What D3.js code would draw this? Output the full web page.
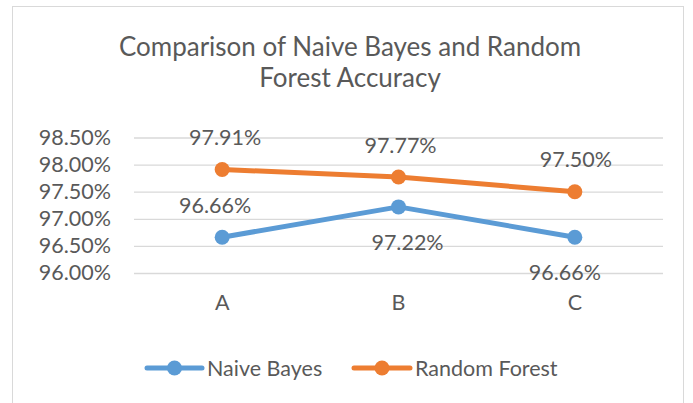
<!DOCTYPE html>
<html>
<head>
<meta charset="utf-8">
<script src="https://cdn.jsdelivr.net/npm/d3@7"></script>
<style>
  html, body { margin: 0; padding: 0; background: #fff; }
  svg { display: block; }
  text { font-family: Lato, "Open Sans", "Liberation Sans", sans-serif; fill: #595959; }
</style>
</head>
<body>
<svg id="chart" width="693" height="403"></svg>
<script>
// ---- data ----
const categories = ["A", "B", "C"];
const seriesNames = ["Naive Bayes", "Random Forest"];
const naiveBayes = [96.66, 97.22, 96.66];
const randomForest = [97.91, 97.77, 97.50];
const yTicks = [96.0, 96.5, 97.0, 97.5, 98.0, 98.5];
const titleLines = ["Comparison of Naive Bayes and Random", "Forest Accuracy"];

// ---- layout / style ----
const W = 693, H = 403;
const colors = ["#5B9BD5", "#ED7D31"];
const plot = { left: 134, right: 663, top: 137.5, bottom: 273 };
const fs = "21.5px";
// label placement per series (above/below) and small horizontal nudges
const labelSide = [["above", "below", "below"], ["above", "above", "above"]];
const labelDx = [[-7, 9, -10], [3, 2, 1]];
const labelDy = { above: -32, below: 35 };

const svg = d3.select("#chart");

// chart border
svg.append("rect")
  .attr("x", 12.5).attr("y", 6.5)
  .attr("width", 671).attr("height", 420)
  .attr("fill", "#fff").attr("stroke", "#D9D9D9").attr("stroke-width", 1);

// title
const title = svg.append("text")
  .attr("text-anchor", "middle")
  .style("font-size", "26px");
title.selectAll("tspan").data(titleLines).join("tspan")
  .attr("x", 350)
  .attr("y", (d, i) => 56 + i * 31)
  .text(d => d);

const x = d3.scaleBand().domain(categories).range([plot.left, plot.right]);
const y = d3.scaleLinear().domain([96.0, 98.5]).range([plot.bottom, plot.top]);

// gridlines
svg.append("g")
  .attr("transform", `translate(${plot.left},0)`)
  .call(d3.axisLeft(y).tickValues(yTicks).tickSize(-(plot.right - plot.left)).tickFormat(""))
  .call(g => g.select(".domain").remove())
  .call(g => g.selectAll("line").attr("stroke", "#D9D9D9").attr("stroke-width", 1.3));

// y tick labels
svg.append("g")
  .attr("transform", `translate(111,0)`)
  .call(d3.axisLeft(y).tickValues(yTicks).tickSize(0).tickPadding(0).tickFormat(d => d.toFixed(2) + "%"))
  .call(g => g.select(".domain").remove())
  .call(g => g.selectAll("text").attr("fill", "#595959").style("font-size", fs)
    .style("font-family", "Lato, 'Open Sans', sans-serif"));

// x tick labels
svg.append("g")
  .attr("transform", `translate(0,${plot.bottom})`)
  .call(d3.axisBottom(x).tickSize(0).tickPadding(0))
  .call(g => g.select(".domain").remove())
  .call(g => g.selectAll("text").attr("fill", "#595959").attr("dy", 0).attr("y", 37)
    .style("font-size", fs).style("font-family", "Lato, 'Open Sans', sans-serif"));

const allSeries = [naiveBayes, randomForest];
const cx = c => x(c) + x.bandwidth() / 2;
const line = d3.line().x((d, i) => cx(categories[i])).y(d => y(d));

allSeries.forEach((vals, s) => {
  const g = svg.append("g");
  g.append("path").datum(vals)
    .attr("d", line)
    .attr("fill", "none").attr("stroke", colors[s])
    .attr("stroke-width", 5).attr("stroke-linecap", "round").attr("stroke-linejoin", "round");
  g.selectAll("circle").data(vals).join("circle")
    .attr("cx", (d, i) => cx(categories[i]))
    .attr("cy", d => y(d))
    .attr("r", 7.5)
    .attr("fill", colors[s]);
  g.selectAll("text").data(vals).join("text")
    .attr("text-anchor", "middle")
    .attr("x", (d, i) => cx(categories[i]) + labelDx[s][i])
    .attr("y", (d, i) => y(d) + labelDy[labelSide[s][i]])
    .attr("dy", "0.36em")
    .style("font-size", fs)
    .text(d => d.toFixed(2) + "%");
});

// legend
const legendItems = [
  { x0: 147, x1: 202, tx: 207 },
  { x0: 354, x1: 410, tx: 415 }
];
const ly = 368;
seriesNames.forEach((name, s) => {
  const it = legendItems[s];
  const g = svg.append("g");
  g.append("line")
    .attr("x1", it.x0).attr("x2", it.x1).attr("y1", ly).attr("y2", ly)
    .attr("stroke", colors[s]).attr("stroke-width", 5).attr("stroke-linecap", "round");
  g.append("circle")
    .attr("cx", (it.x0 + it.x1) / 2).attr("cy", ly).attr("r", 7.5).attr("fill", colors[s]);
  g.append("text")
    .attr("x", it.tx).attr("y", ly).attr("dy", "0.36em")
    .style("font-size", fs)
    .text(name);
});
</script>
</body>
</html>
